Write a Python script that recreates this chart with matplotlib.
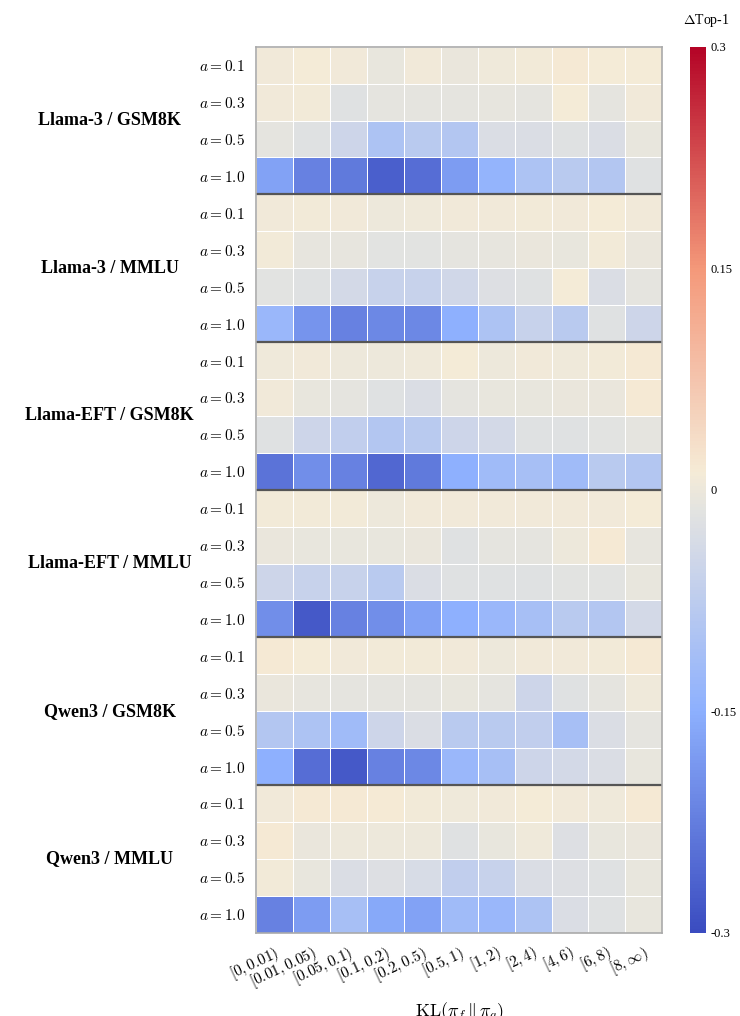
import numpy as np
import matplotlib
matplotlib.use('Agg')
from matplotlib import pyplot as plt
from matplotlib.colors import LinearSegmentedColormap

plt.rcParams['mathtext.fontset'] = 'cm'
plt.rcParams['font.family'] = ['Liberation Serif', 'DejaVu Serif']

groups = ['Llama-3 / GSM8K', 'Llama-3 / MMLU', 'Llama-EFT / GSM8K',
          'Llama-EFT / MMLU', 'Qwen3 / GSM8K', 'Qwen3 / MMLU']
alphas = ['0.1', '0.3', '0.5', '1.0']
bins = [r'$[0, 0.01)$', r'$[0.01, 0.05)$', r'$[0.05, 0.1)$', r'$[0.1, 0.2)$',
        r'$[0.2, 0.5)$', r'$[0.5, 1)$', r'$[1, 2)$', r'$[2, 4)$',
        r'$[4, 6)$', r'$[6, 8)$', r'$[8, \infty)$']

llama3_gsm = [
    [0.005, 0.01, 0.005, -0.005, 0.005, -0.003, 0.003, 0.008, 0.015, 0.01, 0.01],
    [0.005, 0.008, -0.02, -0.01, -0.01, -0.01, -0.008, -0.01, 0.01, -0.01, 0.005],
    [-0.01, -0.02, -0.05, -0.1, -0.08, -0.09, -0.03, -0.03, -0.02, -0.03, -0.005],
    [-0.17, -0.22, -0.23, -0.27, -0.25, -0.18, -0.14, -0.1, -0.08, -0.09, -0.02]]
llama3_mmlu = [
    [0.005, 0.008, 0.006, 0.002, 0.004, 0.006, 0.006, 0.008, 0.006, 0.01, 0.005],
    [0.008, -0.008, -0.008, -0.015, -0.015, -0.01, -0.008, -0.003, -0.005, 0.008, -0.003],
    [-0.015, -0.02, -0.04, -0.06, -0.06, -0.045, -0.025, -0.02, 0.01, -0.03, -0.01],
    [-0.13, -0.19, -0.22, -0.21, -0.21, -0.15, -0.1, -0.06, -0.08, -0.02, -0.05]]
eft_gsm = [
    [0.003, 0.005, 0.002, 0.002, 0.004, 0.01, 0.002, 0.006, 0.004, 0.008, 0.015],
    [0.006, -0.005, -0.01, -0.02, -0.03, -0.01, -0.005, -0.005, -0.003, -0.003, 0.015],
    [-0.02, -0.05, -0.07, -0.09, -0.08, -0.05, -0.04, -0.02, -0.02, -0.015, -0.01],
    [-0.24, -0.2, -0.22, -0.26, -0.23, -0.15, -0.12, -0.11, -0.12, -0.08, -0.09]]
eft_mmlu = [
    [0.008, 0.008, 0.008, 0.002, 0.006, 0.006, 0.006, 0.006, 0.006, 0.006, 0.01],
    [-0.003, -0.005, -0.005, -0.005, -0.003, -0.02, -0.01, -0.01, 0.002, 0.015, -0.008],
    [-0.05, -0.06, -0.06, -0.08, -0.03, -0.02, -0.02, -0.02, -0.015, -0.015, -0.005],
    [-0.2, -0.28, -0.22, -0.2, -0.17, -0.15, -0.13, -0.11, -0.08, -0.09, -0.04]]
qwen_gsm = [
    [0.015, 0.01, 0.005, 0.008, 0.008, 0.005, 0.0, 0.006, 0.006, 0.008, 0.015],
    [-0.003, -0.008, -0.01, -0.01, -0.01, -0.005, -0.01, -0.05, -0.02, -0.01, 0.004],
    [-0.09, -0.1, -0.12, -0.05, -0.03, -0.08, -0.08, -0.07, -0.11, -0.03, -0.01],
    [-0.15, -0.25, -0.28, -0.22, -0.21, -0.13, -0.11, -0.05, -0.04, -0.03, -0.005]]
qwen_mmlu = [
    [0.005, 0.015, 0.015, 0.013, 0.008, 0.004, 0.005, 0.01, 0.006, 0.004, 0.015],
    [0.015, -0.003, 0.002, 0.0, 0.0, -0.02, -0.005, 0.003, -0.025, -0.005, -0.003],
    [0.008, -0.005, -0.03, -0.025, -0.035, -0.07, -0.06, -0.03, -0.025, -0.02, -0.005],
    [-0.22, -0.18, -0.11, -0.16, -0.17, -0.12, -0.13, -0.1, -0.03, -0.02, -0.005]]

data = np.vstack([llama3_gsm, llama3_mmlu, eft_gsm, eft_mmlu, qwen_gsm, qwen_mmlu])
nrows, ncols = data.shape

# coolwarm with a creamy centre, as in the reference
cw = plt.get_cmap('coolwarm')
cmap = LinearSegmentedColormap.from_list('cw_cream', [
    (0.0, cw(0.0)), (0.25, cw(0.25)), (0.44, '#d6dbe6'), (0.48, '#e4e4e0'),
    (0.52, '#f5ebd6'), (0.62, cw(0.62)), (0.75, cw(0.75)), (1.0, cw(1.0))])

fig = plt.figure(figsize=(7.4, 10.16), dpi=100)
ax = fig.add_axes([0.346, 0.082, 0.549, 0.872])
im = ax.pcolormesh(data, cmap=cmap, vmin=-0.3, vmax=0.3,
                   edgecolor='white', linewidth=0.4)
ax.set_xlim(0, ncols)
ax.set_ylim(nrows, 0)
for s in ax.spines.values():
    s.set_color('#aaaaaa')
    s.set_linewidth(1.2)

for g in range(1, len(groups)):
    ax.axhline(g * 4, color='#555555', linewidth=1.6)

ax.set_yticks(np.arange(nrows) + 0.5)
ax.set_yticklabels([r'$a = %s$' % a for _ in groups for a in alphas], fontsize=11)
ax.tick_params(length=0, pad=8)
ax.set_xticks(np.arange(ncols) + 0.5)
ax.set_xticklabels(bins, rotation=25, ha='right', rotation_mode='anchor', fontsize=11)
ax.set_xlabel(r'$\mathrm{KL}(\pi_f \,\|\, \pi_q)$', fontsize=13, labelpad=6)

for i, g in enumerate(groups):
    ax.text(-0.36, 1 - (i * 4 + 2) / nrows, g, transform=ax.transAxes,
            ha='center', va='center', fontsize=13, fontweight='bold')

cax = fig.add_axes([0.932, 0.082, 0.022, 0.872])
cb = fig.colorbar(im, cax=cax, ticks=[-0.3, -0.15, 0, 0.15, 0.3])
cb.ax.set_yticklabels(['-0.3', '-0.15', '0', '0.15', '0.3'], fontsize=9)
cb.ax.tick_params(length=0)
cb.outline.set_visible(False)
fig.text(0.955, 0.98, r'$\Delta$Top-1', ha='center', va='center', fontsize=10)

fig.savefig('out.png', dpi=100)
